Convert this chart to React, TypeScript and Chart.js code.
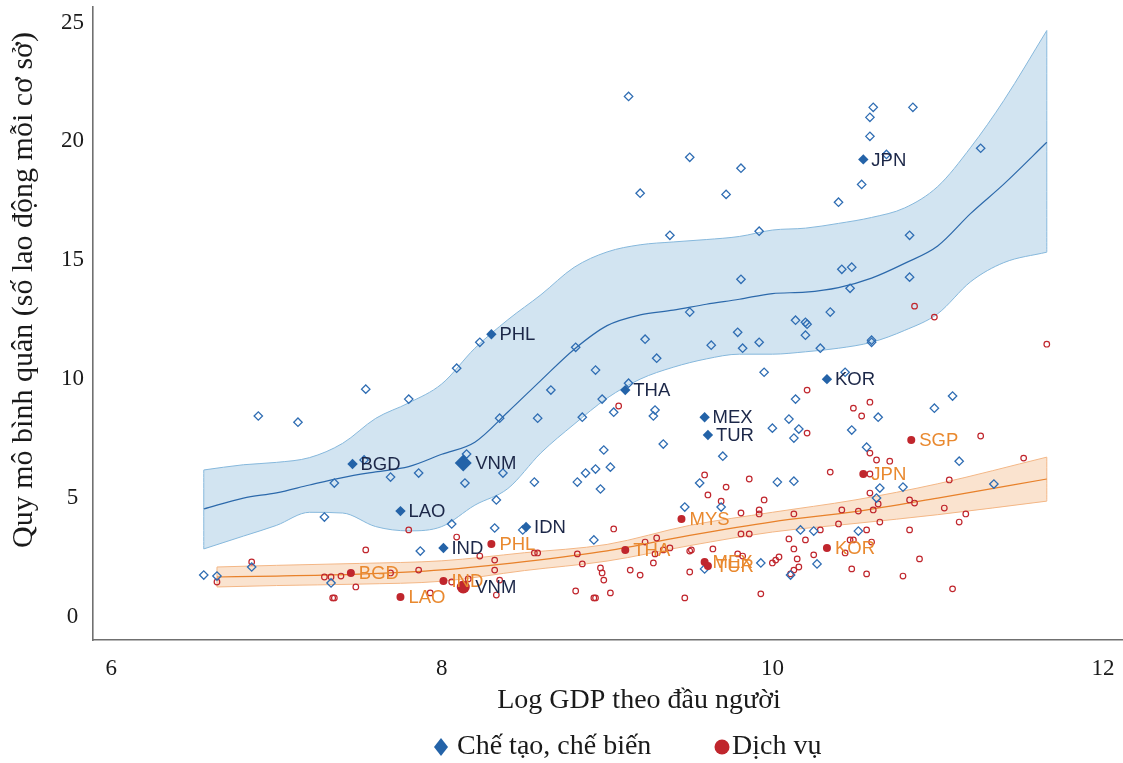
import React, { useEffect, useRef } from "react";
import { Chart, registerables } from "chart.js";

Chart.register(...registerables);

// ---- axes ----
const xTicks = [6, 8, 10, 12];
const yTicks = [0, 5, 10, 15, 20, 25];
const xTitle = "Log GDP theo đầu người";
const yTitle = "Quy mô bình quân (số lao động mỗi cơ sở)";
const seriesNames = ["Chế tạo, chế biến", "Dịch vụ"];

// ---- manufacturing (hollow diamonds) ----
const manufX = [6.56, 6.64, 6.89, 7.13, 6.85, 7.54, 7.8, 7.29, 7.35, 7.69,
  7.86, 7.53, 7.87, 7.33, 8.15, 8.37, 8.14, 8.56, 8.33, 8.06,
  8.32, 8.49, 8.23, 8.09, 8.81, 9.23, 9.3, 8.93, 8.66, 8.35,
  8.58, 8.85, 8.97, 9.13, 9.04, 9.29, 9.28, 9.63, 9.79, 9.82,
  9.92, 9.95, 10.0, 9.34, 9.7, 8.98, 8.87, 8.93, 9.02, 8.82,
  8.96, 8.92, 9.56, 9.47, 10.03, 9.93, 9.59, 9.81, 10.42, 10.48,
  10.47, 10.83, 9.5, 10.14, 10.2, 10.21, 10.35, 10.2, 10.29, 10.6,
  10.6, 10.44, 10.14, 10.1, 10.16, 10.13, 10.64, 10.48, 10.57, 10.61,
  10.85, 10.59, 10.59, 10.69, 10.54, 10.4, 11.26, 10.83, 9.13, 9.5,
  9.81, 9.2, 9.72, 9.38, 9.92, 11.09, 10.98, 11.13, 10.13, 10.65,
  10.79, 11.34, 10.63, 10.17, 10.25, 10.52, 10.27, 10.11, 9.69];
const manufY = [1.76, 1.72, 8.45, 8.19, 2.1, 9.58, 9.16, 4.2, 5.63, 5.88,
  6.05, 6.6, 2.77, 1.43, 6.85, 6.05, 5.63, 5.67, 4.92, 3.91,
  3.74, 3.66, 11.55, 10.46, 11.34, 11.68, 10.88, 10.38, 9.54, 8.36,
  8.36, 8.4, 9.16, 9.83, 8.61, 8.7, 8.45, 11.43, 11.97, 11.3,
  11.55, 10.29, 7.94, 7.27, 6.76, 7.02, 6.05, 6.22, 6.3, 5.67,
  5.38, 3.24, 5.63, 4.62, 5.67, 2.27, 2.02, 14.2, 14.62, 14.71,
  13.82, 14.29, 12.82, 12.48, 12.39, 12.31, 12.82, 11.85, 11.3, 11.55,
  11.64, 10.29, 9.16, 8.32, 7.9, 7.52, 8.4, 7.86, 7.14, 21.43,
  21.43, 21.01, 20.21, 19.45, 18.19, 17.44, 19.71, 16.05, 21.89, 19.33,
  18.87, 17.82, 17.77, 16.05, 16.22, 9.29, 8.78, 6.55, 5.71, 5.42,
  5.46, 5.59, 5.0, 3.66, 3.61, 3.61, 2.23, 1.76, 4.62];

// ---- services (hollow circles) ----
const servX = [6.85, 6.64, 7.54, 7.8, 7.29, 7.33, 7.39, 7.48, 7.34, 7.35,
  7.69, 7.86, 7.93, 8.09, 8.23, 8.32, 8.32, 8.56, 8.58, 8.06,
  8.16, 8.35, 8.33, 8.82, 8.85, 8.96, 8.97, 8.98, 9.14, 9.2,
  8.81, 8.92, 8.93, 9.02, 9.47, 9.04, 9.07, 9.23, 9.3, 9.34,
  9.38, 9.29, 9.28, 9.5, 9.51, 9.5, 9.59, 9.72, 9.86, 9.61,
  9.69, 9.95, 9.81, 9.92, 9.92, 9.81, 9.86, 9.64, 9.79, 9.82,
  9.93, 10.04, 10.02, 10.0, 10.35, 10.21, 10.21, 10.49, 10.59, 10.54,
  10.59, 10.63, 10.71, 10.59, 10.86, 10.98, 11.66, 11.26, 11.52, 11.07,
  10.59, 10.64, 10.83, 10.86, 11.04, 10.13, 10.42, 10.52, 10.61, 11.17,
  11.13, 10.65, 10.4, 10.29, 10.57, 10.83, 10.1, 10.2, 10.47, 10.49,
  10.6, 10.13, 10.44, 10.25, 10.15, 10.89, 10.16, 10.13, 10.11, 10.48,
  10.57, 10.79, 11.09];
const servY = [2.31, 1.47, 2.82, 3.66, 1.68, 1.68, 1.72, 1.26, 0.8, 0.8,
  1.85, 1.97, 1.01, 3.36, 2.56, 2.39, 1.97, 2.69, 2.69, 1.47,
  1.6, 1.55, 0.92, 2.65, 2.23, 2.06, 1.85, 1.55, 1.97, 1.76,
  1.09, 0.8, 0.8, 1.01, 0.8, 3.7, 8.87, 3.15, 3.32, 2.82,
  2.9, 2.65, 2.27, 2.77, 2.82, 1.89, 5.97, 5.46, 5.8, 5.13,
  4.87, 4.92, 4.37, 4.5, 4.33, 3.49, 3.49, 2.86, 2.65, 2.56,
  0.97, 2.52, 2.39, 2.27, 6.09, 9.54, 7.73, 8.78, 9.03, 8.45,
  6.89, 6.6, 6.55, 6.01, 13.07, 12.61, 11.47, 7.61, 6.68, 5.76,
  5.21, 4.75, 4.92, 4.79, 4.58, 4.33, 4.5, 4.45, 4.5, 4.33,
  3.99, 3.99, 3.91, 3.66, 3.66, 3.66, 3.28, 3.24, 3.24, 3.24,
  3.15, 2.86, 2.69, 2.61, 2.44, 2.44, 2.1, 1.97, 1.81, 2.02,
  1.81, 1.72, 1.18];

// ---- highlighted countries ----
const manufCodes = ["BGD", "LAO", "VNM", "PHL", "IND", "IDN", "THA", "MEX", "TUR", "KOR", "JPN"];
const manufCodeX = [7.46, 7.75, 8.13, 8.3, 8.01, 8.51, 9.11, 9.59, 9.61, 10.33, 10.55];
const manufCodeY = [6.43, 4.45, 6.47, 11.89, 2.9, 3.78, 9.54, 8.4, 7.65, 10.0, 19.24];

const servCodes = ["BGD", "LAO", "IND", "VNM", "PHL", "THA", "MYS", "MEX", "TUR", "KOR", "JPN", "SGP"];
const servCodeX = [7.45, 7.75, 8.01, 8.13, 8.3, 9.11, 9.45, 9.59, 9.61, 10.33, 10.55, 10.84];
const servCodeY = [1.85, 0.84, 1.51, 1.26, 3.07, 2.82, 4.12, 2.31, 2.14, 2.9, 6.01, 7.44];

// ---- fitted curves with confidence bands ----
const manufFitX = [6.56, 6.8, 7.0, 7.2, 7.4, 7.6, 7.8, 8.0, 8.2, 8.4, 8.6, 8.8, 9.0,
  9.2, 9.4, 9.6, 9.8, 10.0, 10.2, 10.4, 10.6, 10.8, 11.0, 11.2, 11.4, 11.66];
const manufFit = [4.54, 5.0, 5.22, 5.55, 5.86, 6.1, 6.32, 6.84, 7.35, 8.62, 9.95, 11.25, 12.25,
  12.7, 12.9, 13.15, 13.36, 13.6, 13.66, 13.85, 14.25, 14.87, 15.6, 16.97, 18.2, 19.96];
const manufUpper = [6.18, 6.4, 6.5, 6.7, 7.3, 8.35, 9.0, 9.8, 11.3, 12.5, 13.55, 14.7, 15.35,
  15.65, 15.77, 15.87, 16.0, 16.27, 16.35, 16.55, 16.8, 17.2, 18.1, 19.75, 21.72, 24.66];
const manufLower = [2.86, 3.4, 3.85, 4.4, 4.37, 3.8, 3.62, 3.8, 4.7, 5.4, 6.9, 8.1, 9.2,
  10.0, 10.5, 10.85, 11.05, 11.05, 11.15, 11.3, 11.55, 12.05, 12.75, 14.1, 14.9, 15.34];

const servFitX = [6.64, 7.0, 7.5, 8.0, 8.5, 9.0, 9.5, 10.0, 10.5, 11.0, 11.66];
const servFit = [1.68, 1.72, 1.8, 1.98, 2.33, 2.78, 3.43, 4.0, 4.43, 5.0, 5.8];
const servUpper = [2.1, 2.17, 2.25, 2.36, 2.7, 3.05, 3.85, 4.4, 4.92, 5.6, 6.72];
const servLower = [1.26, 1.32, 1.38, 1.5, 1.95, 2.35, 3.0, 3.57, 3.93, 4.3, 4.87];

// ---- styling ----
const BLUE = "#2f6db3";
const BLUE_FILL = "#2463a8";
const BLUE_BAND = "#d2e4f1";
const BLUE_BAND_EDGE = "#86b8dc";
const BLUE_LINE = "#2c69ab";
const RED = "#c0262d";
const ORANGE_BAND = "rgba(245, 200, 160, 0.5)";
const ORANGE_BAND_EDGE = "#f3b685";
const ORANGE_LINE = "#e8812a";
const NAVY = "#1c2748";
const ORANGE_TXT = "#e9892f";
const SERIF = '"Liberation Serif", "Times New Roman", serif';
const SANS = '"Liberation Sans", Arial, sans-serif';

const pts = (xs: number[], ys: number[]) => xs.map((x, i) => ({ x, y: ys[i] }));

const bandLine = (xs: number[], ys: number[], color: string, width: number, order: number, fill: any = false, bg = "transparent") => ({
  type: "line" as const,
  data: pts(xs, ys),
  borderColor: color,
  borderWidth: width,
  backgroundColor: bg,
  pointRadius: 0,
  pointHoverRadius: 0,
  cubicInterpolationMode: "monotone" as const,
  fill,
  order,
  showLine: true,
});

const decorPlugin = {
  id: "decor",
  afterDatasetsDraw(chart: any) {
    const ctx = chart.ctx;
    chart.data.datasets.forEach((ds: any, i: number) => {
      if (!ds.codes) return;
      const meta = chart.getDatasetMeta(i);
      meta.data.forEach((el: any, j: number) => {
        const code = ds.codes[j];
        const big = code === "VNM";
        ctx.save();
        ctx.font = `18.5px ${SANS}`;
        ctx.fillStyle = big ? NAVY : ds.labelColor;
        ctx.textBaseline = "middle";
        ctx.textAlign = "left";
        ctx.fillText(code, el.x + (big ? 12 : 8), el.y + 1);
        ctx.restore();
      });
    });
  },
  afterDraw(chart: any) {
    const ctx = chart.ctx;
    ctx.save();
    ctx.fillStyle = "#1a1a1a";
    ctx.font = `28px ${SERIF}`;
    ctx.textAlign = "center";
    ctx.textBaseline = "middle";
    ctx.fillText(xTitle, 639, 701);
    ctx.save();
    ctx.translate(24, 290);
    ctx.rotate(-Math.PI / 2);
    ctx.font = `30px ${SERIF}`;
    ctx.fillText(yTitle, 0, 0);
    ctx.restore();
    const ly = 747;
    ctx.fillStyle = BLUE_FILL;
    ctx.beginPath();
    ctx.moveTo(441, ly - 9);
    ctx.lineTo(448, ly);
    ctx.lineTo(441, ly + 9);
    ctx.lineTo(434, ly);
    ctx.closePath();
    ctx.fill();
    ctx.fillStyle = RED;
    ctx.beginPath();
    ctx.arc(722, ly, 7.5, 0, Math.PI * 2);
    ctx.fill();
    ctx.fillStyle = "#1a1a1a";
    ctx.font = `28px ${SERIF}`;
    ctx.textAlign = "left";
    ctx.fillText(seriesNames[0], 457, ly);
    ctx.fillText(seriesNames[1], 732, ly);
    ctx.restore();
  },
};

export default function App() {
  const ref = useRef<HTMLCanvasElement | null>(null);
  useEffect(() => {
    if (!ref.current) return;
    const chart = new Chart(ref.current, {
      type: "scatter",
      data: {
        datasets: [
          bandLine(manufFitX, manufUpper, BLUE_BAND_EDGE, 1, 20),
          bandLine(manufFitX, manufLower, BLUE_BAND_EDGE, 1, 20, "-1", BLUE_BAND),
          bandLine([manufFitX[0], manufFitX[0]], [manufUpper[0], manufLower[0]], BLUE_BAND_EDGE, 1, 19),
          bandLine([manufFitX[manufFitX.length - 1], manufFitX[manufFitX.length - 1]],
            [manufUpper[manufUpper.length - 1], manufLower[manufLower.length - 1]], BLUE_BAND_EDGE, 1, 19),
          bandLine(manufFitX, manufFit, BLUE_LINE, 1.2, 15),
          bandLine(servFitX, servUpper, ORANGE_BAND_EDGE, 1, 20),
          bandLine(servFitX, servLower, ORANGE_BAND_EDGE, 1, 20, "-1", ORANGE_BAND),
          bandLine([servFitX[0], servFitX[0]], [servUpper[0], servLower[0]], ORANGE_BAND_EDGE, 1, 19),
          bandLine([servFitX[servFitX.length - 1], servFitX[servFitX.length - 1]],
            [servUpper[servUpper.length - 1], servLower[servLower.length - 1]], ORANGE_BAND_EDGE, 1, 19),
          bandLine(servFitX, servFit, ORANGE_LINE, 1.2, 15),
          {
            label: seriesNames[1],
            data: pts(servX, servY),
            pointStyle: "circle",
            pointRadius: 2.8,
            pointBorderWidth: 1.2,
            borderColor: RED,
            backgroundColor: "transparent",
            order: 5,
          } as any,
          {
            label: seriesNames[0],
            data: pts(manufX, manufY),
            pointStyle: "rectRot",
            pointRadius: 4.2,
            pointBorderWidth: 1.3,
            borderColor: BLUE,
            backgroundColor: "transparent",
            order: 4,
          } as any,
          {
            label: "serv-highlight",
            data: pts(servCodeX, servCodeY),
            codes: servCodes,
            labelColor: ORANGE_TXT,
            pointStyle: "circle",
            pointRadius: (c: any) => (servCodes[c.dataIndex] === "VNM" ? 6.5 : 4),
            pointBorderWidth: 0,
            borderColor: RED,
            backgroundColor: RED,
            order: 2,
          } as any,
          {
            label: "manuf-highlight",
            data: pts(manufCodeX, manufCodeY),
            codes: manufCodes,
            labelColor: NAVY,
            pointStyle: "rectRot",
            pointRadius: (c: any) => (manufCodes[c.dataIndex] === "VNM" ? 8.5 : 5.2),
            pointBorderWidth: 0,
            borderColor: BLUE_FILL,
            backgroundColor: BLUE_FILL,
            order: 1,
          } as any,
        ],
      },
      options: {
        animation: false,
        responsive: true,
        maintainAspectRatio: false,
        events: [],
        layout: { autoPadding: false, padding: { left: 0, top: 7, right: 1, bottom: 0 } },
        plugins: {
          legend: { display: false },
          tooltip: { enabled: false },
        },
        scales: {
          x: {
            type: "linear",
            min: 5.89,
            max: 12.115,
            grid: { display: false, drawTicks: false },
            border: { display: true, color: "#707070", width: 1.6 },
            ticks: {
              padding: 15,
              color: "#1a1a1a",
              font: { family: SERIF, size: 23 },
            },
            afterBuildTicks: (s: any) => {
              s.ticks = xTicks.map((v) => ({ value: v }));
            },
            afterFit: (s: any) => {
              s.height = 123;
              s.paddingLeft = 0;
              s.paddingRight = 0;
              s.paddingTop = 0;
              s.paddingBottom = 0;
            },
          },
          y: {
            type: "linear",
            min: -0.97,
            max: 25.65,
            grid: { display: false, drawTicks: false },
            border: { display: true, color: "#707070", width: 1.6 },
            ticks: {
              padding: 9,
              crossAlign: "center",
              color: "#1a1a1a",
              font: { family: SERIF, size: 23 },
            },
            afterBuildTicks: (s: any) => {
              s.ticks = yTicks.map((v) => ({ value: v }));
            },
            afterFit: (s: any) => {
              s.width = 93;
              s.paddingLeft = 0;
              s.paddingRight = 0;
              s.paddingTop = 0;
              s.paddingBottom = 0;
            },
          },
        },
      } as any,
      plugins: [decorPlugin],
    });
    return () => chart.destroy();
  }, []);

  return (
    <div style={{ position: "fixed", left: 0, top: 0, width: 1123, height: 763, background: "#fff" }}>
      <canvas ref={ref} />
    </div>
  );
}
